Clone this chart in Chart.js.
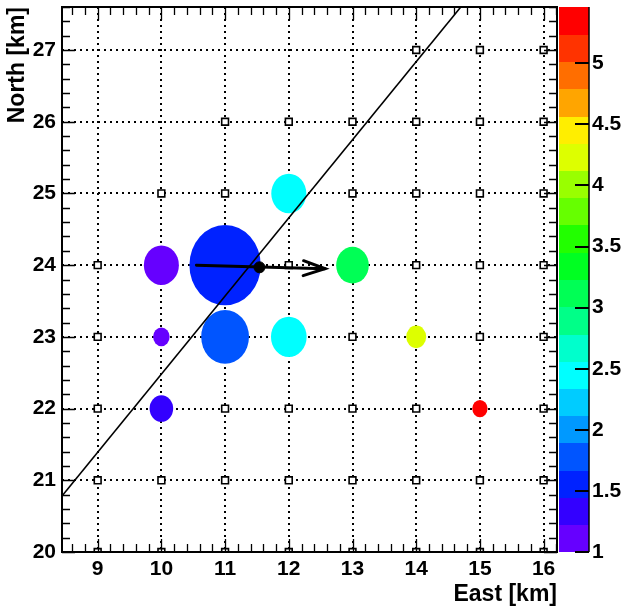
<!DOCTYPE html>
<html>
<head>
<meta charset="utf-8">
<style>
  html, body { margin: 0; padding: 0; background: #fff; }
  #wrap { width: 626px; height: 611px; position: relative; }
</style>
<script src="https://cdn.jsdelivr.net/npm/chart.js@4.4.1/dist/chart.umd.min.js"></script>
</head>
<body>
<div id="wrap"><canvas id="plot"></canvas></div>
<script>
// detector stations (open squares)
const stationX = [14, 15, 16,
  11, 12, 13, 14, 15, 16,
  10, 11, 12, 13, 14, 15, 16,
  9, 10, 11, 12, 13, 14, 15, 16,
  9, 10, 11, 12, 13, 14, 15, 16,
  9, 10, 11, 12, 13, 14, 15, 16,
  9, 10, 11, 12, 13, 14, 15, 16,
  9, 10, 11, 12, 13, 14, 15, 16];
const stationY = [27, 27, 27,
  26, 26, 26, 26, 26, 26,
  25, 25, 25, 25, 25, 25, 25,
  24, 24, 24, 24, 24, 24, 24, 24,
  23, 23, 23, 23, 23, 23, 23, 23,
  22, 22, 22, 22, 22, 22, 22, 22,
  21, 21, 21, 21, 21, 21, 21, 21,
  20, 20, 20, 20, 20, 20, 20, 20];

// hit stations: position, colour value (z) and circle radius in km
const hitX = [10, 11, 12, 10, 11, 12, 14, 13, 10, 15];
const hitY = [24, 24, 25, 23, 23, 23, 23, 24, 22, 22];
const hitValue = [1.1, 1.55, 2.45, 1.05, 1.8, 2.5, 4.2, 3.1, 1.3, 5.4];
const hitSize = [0.275, 0.56, 0.275, 0.13, 0.375, 0.28, 0.157, 0.256, 0.185, 0.12];

// shower axis projection and reconstructed core / direction
const axisLineX = [8.44, 14.7];
const axisLineY = [20.78, 27.6];
const arrowX = [10.55, 12.57];
const arrowY = [24.0, 23.95];
const coreX = [11.54];
const coreY = [23.97];

// axes
const xTicks = [9, 10, 11, 12, 13, 14, 15, 16];
const yTicks = [20, 21, 22, 23, 24, 25, 26, 27];
const zTicks = [1, 1.5, 2, 2.5, 3, 3.5, 4, 4.5, 5];
const xRange = [8.44, 16.21];
const yRange = [20, 27.6];
const zRange = [1, 5.46];

// colour palette of the z scale (bottom -> top)
const palette = ['#6600ff', '#3300ff', '#0022ff', '#0055ff', '#0099ff', '#00ccff', '#00ffff',
  '#00ffcc', '#00ff88', '#00ff55', '#00ff22', '#22ff00', '#66ff00', '#99ff00', '#ddff00',
  '#ffee00', '#ffa500', '#ff6e00', '#ff3300', '#ff0000'];

function colorFor(v) {
  let i = Math.floor((v - zRange[0]) / (zRange[1] - zRange[0]) * palette.length);
  i = Math.max(0, Math.min(palette.length - 1, i));
  return palette[i];
}

const FONT = "'Liberation Sans', Arial, Helvetica, sans-serif";

const decor = {
  id: 'decor',
  beforeDatasetDraw(chart, args) {
    if (args.index !== 1) return;
    // circles in km -> ellipses on screen
    const sx = chart.scales.x, sy = chart.scales.y, ctx = chart.ctx;
    ctx.save();
    for (let i = 0; i < hitX.length; i++) {
      const cx = sx.getPixelForValue(hitX[i]);
      const cy = sy.getPixelForValue(hitY[i]);
      const rx = Math.abs(sx.getPixelForValue(hitX[i] + hitSize[i]) - cx);
      const ry = Math.abs(sy.getPixelForValue(hitY[i] + hitSize[i]) - cy);
      ctx.beginPath();
      ctx.ellipse(cx, cy, rx, ry, 0, 0, Math.PI * 2);
      ctx.fillStyle = colorFor(hitValue[i]);
      ctx.fill();
    }
    ctx.restore();
  },
  afterDatasetsDraw(chart) {
    // arrow head
    const sx = chart.scales.x, sy = chart.scales.y, ctx = chart.ctx;
    const x0 = sx.getPixelForValue(arrowX[0]), y0 = sy.getPixelForValue(arrowY[0]);
    const x1 = sx.getPixelForValue(arrowX[1]), y1 = sy.getPixelForValue(arrowY[1]);
    const a = Math.atan2(y1 - y0, x1 - x0);
    const len = 23, half = 0.33;
    ctx.save();
    ctx.strokeStyle = '#000';
    ctx.lineWidth = 3;
    ctx.lineCap = 'round';
    ctx.beginPath();
    ctx.moveTo(x1 - len * Math.cos(a - half), y1 - len * Math.sin(a - half));
    ctx.lineTo(x1, y1);
    ctx.lineTo(x1 - len * Math.cos(a + half), y1 - len * Math.sin(a + half));
    ctx.stroke();
    ctx.restore();
  },
  afterDraw(chart) {
    const ctx = chart.ctx, area = chart.chartArea;
    const sx = chart.scales.x, sy = chart.scales.y, sz = chart.scales.z;
    ctx.save();
    // colour bar
    const barL = sz.left + 2, barR = sz.left + 32;
    const n = palette.length, step = (zRange[1] - zRange[0]) / n;
    for (let i = 0; i < n; i++) {
      const yLo = sz.getPixelForValue(zRange[0] + i * step);
      const yHi = sz.getPixelForValue(zRange[0] + (i + 1) * step);
      ctx.fillStyle = palette[i];
      ctx.fillRect(barL, Math.floor(yHi), barR - barL, Math.ceil(yLo) - Math.floor(yHi));
    }
    ctx.strokeStyle = '#000';
    ctx.lineWidth = 1.5;
    ctx.beginPath();
    ctx.moveTo(barR, area.top);
    ctx.lineTo(barR, area.bottom);
    ctx.stroke();
    ctx.lineWidth = 2;
    ctx.beginPath();
    zTicks.forEach(v => {
      const y = Math.round(sz.getPixelForValue(v));
      ctx.moveTo(barR, y);
      ctx.lineTo(barR - 14, y);
    });
    ctx.stroke();

    // inner tick marks on all four sides
    ctx.lineWidth = 1.3;
    ctx.beginPath();
    for (let k = Math.ceil(xRange[0] * 5); k <= Math.floor(xRange[1] * 5); k++) {
      const x = Math.round(sx.getPixelForValue(k / 5)) + 0.5;
      const l = k % 5 === 0 ? 13 : 8;
      ctx.moveTo(x, area.bottom); ctx.lineTo(x, area.bottom - l);
      ctx.moveTo(x, area.top); ctx.lineTo(x, area.top + l);
    }
    for (let k = Math.ceil(yRange[0] * 5); k <= Math.floor(yRange[1] * 5); k++) {
      const y = Math.round(sy.getPixelForValue(k / 5)) + 0.5;
      const l = k % 5 === 0 ? 13 : 8;
      ctx.moveTo(area.left, y); ctx.lineTo(area.left + l, y);
      ctx.moveTo(area.right, y); ctx.lineTo(area.right - l, y);
    }
    ctx.stroke();

    // frame
    ctx.lineWidth = 2;
    ctx.strokeRect(area.left, area.top, area.right - area.left, area.bottom - area.top);
    ctx.restore();
  }
};

const dotted = { color: '#000', lineWidth: 2, drawTicks: false };

// no label overflow padding: the frame sits at fixed offsets like the original
function noPad(s) {
  s.paddingTop = 0; s.paddingBottom = 0; s.paddingLeft = 0; s.paddingRight = 0;
}

new Chart(document.getElementById('plot'), {
  type: 'scatter',
  data: {
    datasets: [
      {
        data: stationX.map((x, i) => ({ x: x, y: stationY[i] })),
        pointStyle: 'rect',
        pointRadius: 4.8,
        pointBorderWidth: 1.6,
        pointBorderColor: '#000',
        pointBackgroundColor: '#fff',
        showLine: false,
        order: 4
      },
      {
        data: axisLineX.map((x, i) => ({ x: x, y: axisLineY[i] })),
        showLine: true,
        borderColor: '#000',
        borderWidth: 1.6,
        pointRadius: 0,
        order: 3
      },
      {
        data: arrowX.map((x, i) => ({ x: x, y: arrowY[i] })),
        showLine: true,
        borderColor: '#000',
        borderWidth: 3,
        borderCapStyle: 'round',
        pointRadius: 0,
        order: 2
      },
      {
        data: coreX.map((x, i) => ({ x: x, y: coreY[i] })),
        pointRadius: 5.5,
        pointBackgroundColor: '#000',
        pointBorderColor: '#000',
        order: 1
      }
    ]
  },
  options: {
    responsive: true,
    maintainAspectRatio: false,
    animation: false,
    layout: { padding: { top: 7, left: 0, right: 0, bottom: 0 } },
    plugins: { legend: { display: false }, tooltip: { enabled: false } },
    scales: {
      x: {
        type: 'linear',
        min: xRange[0],
        max: xRange[1],
        afterBuildTicks: s => { s.ticks = xTicks.map(v => ({ value: v })); },
        afterFit: s => { s.height = 59; noPad(s); },
        grid: dotted,
        border: { display: false, dash: [2, 4] },
        ticks: { color: '#000', padding: 5, font: { family: FONT, size: 21, weight: 'bold' } },
        title: {
          display: true, text: 'East [km]', align: 'end', color: '#000',
          padding: { top: 0, bottom: 3 },
          font: { family: FONT, size: 23, weight: 'bold', lineHeight: 1.2 }
        }
      },
      y: {
        type: 'linear',
        min: yRange[0],
        max: yRange[1],
        afterBuildTicks: s => { s.ticks = yTicks.map(v => ({ value: v })); },
        afterFit: s => { s.width = 62; noPad(s); },
        grid: dotted,
        border: { display: false, dash: [2, 4] },
        ticks: { color: '#000', padding: 6, font: { family: FONT, size: 21, weight: 'bold' } },
        title: {
          display: true, text: 'North [km]', align: 'end', color: '#000',
          padding: { top: 4, bottom: 0 },
          font: { family: FONT, size: 23, weight: 'bold', lineHeight: 1.2 }
        }
      },
      z: {
        type: 'linear',
        position: 'right',
        min: zRange[0],
        max: zRange[1],
        afterBuildTicks: s => { s.ticks = zTicks.map(v => ({ value: v })); },
        afterFit: s => { s.width = 69; noPad(s); },
        grid: { drawOnChartArea: false, drawTicks: false },
        border: { display: false },
        ticks: {
          color: '#000', padding: 35,
          font: { family: FONT, size: 21, weight: 'bold' },
          callback: v => String(v)
        }
      }
    }
  },
  plugins: [decor]
});
</script>
</body>
</html>
